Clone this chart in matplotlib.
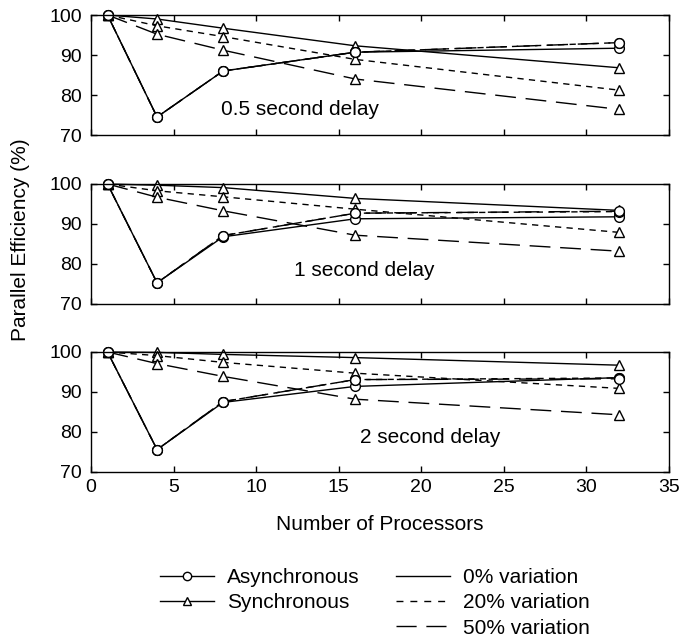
import numpy as np
import matplotlib.pyplot as plt
from matplotlib.lines import Line2D

plt.rcParams['font.family'] = ['Liberation Sans', 'DejaVu Sans']
plt.rcParams['axes.linewidth'] = 1.0

# Number of processors
procs = [1, 4, 8, 16, 32]

# Parallel efficiency (%), one block per delay
# 0.5 second delay
async_05 = {
    '0%':  [100, 74.5, 86.0, 90.7, 91.7],
    '20%': [100, 74.5, 86.0, 90.7, 93.1],
    '50%': [100, 74.5, 86.0, 90.7, 93.1],
}
sync_05 = {
    '0%':  [100, 99.0, 96.7, 92.3, 86.8],
    '20%': [100, 97.3, 94.6, 88.9, 81.2],
    '50%': [100, 95.2, 91.2, 84.0, 76.4],
}
# 1 second delay
async_1 = {
    '0%':  [100, 75.3, 86.8, 91.3, 91.8],
    '20%': [100, 75.3, 87.1, 92.7, 93.1],
    '50%': [100, 75.3, 87.1, 92.7, 93.2],
}
sync_1 = {
    '0%':  [100, 99.7, 99.1, 96.4, 93.4],
    '20%': [100, 98.3, 96.8, 93.7, 87.9],
    '50%': [100, 96.7, 93.3, 87.2, 83.2],
}
# 2 second delay
async_2 = {
    '0%':  [100, 75.6, 87.4, 91.4, 93.6],
    '20%': [100, 75.6, 87.6, 93.1, 93.5],
    '50%': [100, 75.6, 87.6, 93.1, 93.3],
}
sync_2 = {
    '0%':  [100, 99.9, 99.4, 98.6, 96.7],
    '20%': [100, 99.1, 97.4, 94.7, 90.9],
    '50%': [100, 97.1, 93.9, 88.2, 84.3],
}

panels = [
    ('0.5 second delay', async_05, sync_05, (7.9, 76.3)),
    ('1 second delay', async_1, sync_1, (12.3, 78.4)),
    ('2 second delay', async_2, sync_2, (16.3, 78.7)),
]

styles = {
    '0%': '-',
    '20%': (0, (4.5, 3.8)),
    '50%': (0, (15, 7)),
}

fig = plt.figure(figsize=(6.83, 6.4), dpi=100)

left = 91 / 683
width = 578 / 683
bottoms = [1 - 135 / 640, 1 - 304 / 640, 1 - 472 / 640]
height = 120 / 640

for i, (title, a_data, s_data, txt) in enumerate(panels):
    ax = fig.add_axes([left, bottoms[i], width, height])
    for var in ['0%', '20%', '50%']:
        ax.plot(procs, s_data[var], color='black', lw=1, ls=styles[var],
                marker='^', ms=7, mfc='white', mec='black', mew=1,
                clip_on=False)
    for var in ['0%', '20%', '50%']:
        ax.plot(procs, a_data[var], color='black', lw=1, ls=styles[var],
                marker='o', ms=7, mfc='white', mec='black', mew=1,
                clip_on=False)
    ax.set_xlim(0, 35)
    ax.set_ylim(70, 100)
    ax.set_xticks(np.arange(0, 36, 5))
    ax.set_yticks([70, 80, 90, 100])
    ax.tick_params(direction='in', top=True, right=True, length=4.5,
                   width=1, labelsize=14)
    ax.tick_params(axis='y', pad=6.5)
    ax.tick_params(axis='x', pad=5)
    ax.text(txt[0], txt[1], title, fontsize=15, va='center', ha='left')
    if i < 2:
        ax.set_xticklabels([])

fig.text(380 / 683, 1 - 530 / 640, 'Number of Processors', fontsize=15,
         ha='center', va='baseline')
fig.text(21 / 683, 1 - 240 / 640, 'Parallel Efficiency (%)', fontsize=15,
         ha='center', va='center', rotation=90)

method_handles = [
    Line2D([], [], color='black', lw=1, marker='o', ms=6, mfc='white', mec='black'),
    Line2D([], [], color='black', lw=1, marker='^', ms=6, mfc='white', mec='black'),
]
method_labels = ['Asynchronous', 'Synchronous']
var_handles = [
    Line2D([], [], color='black', lw=1, ls='-'),
    Line2D([], [], color='black', lw=1, ls=(0, (5, 5))),
    Line2D([], [], color='black', lw=1, ls=(0, (14.5, 7))),
]
var_labels = ['0% variation', '20% variation', '50% variation']

leg_kw = dict(loc='upper left', frameon=False, fontsize=15,
              handlelength=2.6, handletextpad=0.6, labelspacing=0.3,
              borderpad=0, borderaxespad=0, numpoints=1)
fig.legend(method_handles, method_labels,
           bbox_to_anchor=(160 / 683, 1 - 568 / 640), **leg_kw)
fig.legend(var_handles, var_labels,
           bbox_to_anchor=(396 / 683, 1 - 568 / 640), **leg_kw)

fig.savefig('out.png', dpi=100)
